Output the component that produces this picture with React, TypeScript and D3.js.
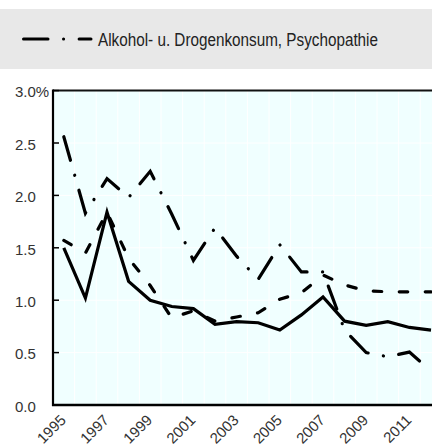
import * as d3 from 'd3';

// years on the x axis, one value per year
const years = [1995, 1996, 1997, 1998, 1999, 2000, 2001, 2002, 2003, 2004, 2005, 2006, 2007, 2008, 2009, 2010, 2011, 2012];
const yearLabels = [1995, 1997, 1999, 2001, 2003, 2005, 2007, 2009, 2011];

// solid line
const solidValues = [1.50, 1.02, 1.84, 1.18, 1.00, 0.94, 0.92, 0.77, 0.795, 0.785, 0.715, 0.86, 1.03, 0.80, 0.76, 0.795, 0.74, 0.715];
// dashed line
const dashedValues = [1.57, 1.45, 1.84, 1.40, 1.14, 0.83, 0.90, 0.80, 0.84, 0.88, 1.01, 1.07, 1.24, 1.145, 1.09, 1.08, 1.08, 1.08];
// dash-dot line: Alkohol- u. Drogenkonsum, Psychopathie
const alcoholValues = [2.56, 1.83, 2.16, 1.98, 2.23, 1.82, 1.38, 1.69, 1.42, 1.20, 1.53, 1.27, 1.27, 0.715, 0.50, 0.46, 0.505, 0.325];

const yTicks = [0, 0.5, 1, 1.5, 2, 2.5, 3];
const legendLabel = 'Alkohol- u. Drogenkonsum, Psychopathie';

const W = 432;
const H = 446;
const left = 53;
const bandW = 21.6;
const font = '"Liberation Sans", Arial, sans-serif';
const dashDot = '24.5 15.5 0.1 15.5';

export default function App() {
  const x = d3.scaleBand<number>()
    .domain(years)
    .range([left, left + bandW * years.length])
    .padding(0);
  const y = d3.scaleLinear().domain([0, 3]).range([405, 90.6]);
  const cx = (yr: number) => (x(yr) ?? 0) + x.bandwidth() / 2;

  const line = d3.line<number>()
    .x((_, i) => cx(years[i]))
    .y(d => y(d));

  const right = left + bandW * years.length;

  return (
    <svg width={W} height={H} style={{ position: 'absolute', left: 0, top: 0 }}>
      <rect x={0} y={0} width={W} height={H} fill="#fff" />

      {/* legend band */}
      <rect x={0} y={9} width={W} height={60} fill="#e8e8e8" />
      <line x1={23.5} x2={91} y1={39} y2={39} stroke="#000" strokeWidth={3}
        strokeDasharray={dashDot} strokeLinecap="round" />
      <text x={98} y={46} fontFamily={font} fontSize={17.5} fill="#222"
        textLength={280} lengthAdjust="spacingAndGlyphs">{legendLabel}</text>

      {/* plot background */}
      <rect x={left} y={y(3)} width={right - left} height={y(0) - y(3)} fill="#f0ffff" />

      {/* grid */}
      {years.map(yr => (
        <line key={'gv' + yr} x1={x(yr)} x2={x(yr)} y1={y(3)} y2={y(0)} stroke="#fff" strokeWidth={1} />
      ))}
      {yTicks.map(t => (
        <line key={'gh' + t} x1={left} x2={right} y1={y(t)} y2={y(t)} stroke="#fff" strokeWidth={1} />
      ))}

      {/* series */}
      <path d={line(solidValues) ?? ''} fill="none" stroke="#000" strokeWidth={3.2} />
      <path d={line(dashedValues) ?? ''} fill="none" stroke="#000" strokeWidth={3.2}
        strokeDasharray="8.5 17.5" strokeLinecap="round" />
      <path d={line(alcoholValues) ?? ''} fill="none" stroke="#000" strokeWidth={3.2}
        strokeDasharray={dashDot} strokeLinecap="round" />

      {/* axes */}
      <line x1={left} x2={right} y1={y(3)} y2={y(3)} stroke="#111" strokeWidth={2} />
      <line x1={left} x2={left} y1={y(3) - 1} y2={y(0) + 1} stroke="#000" strokeWidth={2.2} />
      <line x1={left - 1} x2={right} y1={y(0)} y2={y(0)} stroke="#000" strokeWidth={2.6} />

      {yTicks.map(t => (
        <g key={'yt' + t}>
          <line x1={left} x2={left + 6} y1={y(t)} y2={y(t)} stroke="#000" strokeWidth={1.5} />
          <text x={15} y={y(t) + 6.7} fontFamily={font} fontSize={15} fill="#333">
            {t === 3 ? '3.0%' : d3.format('.1f')(t)}
          </text>
        </g>
      ))}

      {yearLabels.map(yr => (
        <text key={'xl' + yr} transform={`translate(${cx(yr) + 3},421) rotate(-45)`}
          textAnchor="end" fontFamily={font} fontSize={15} fill="#333">{yr}</text>
      ))}
    </svg>
  );
}
